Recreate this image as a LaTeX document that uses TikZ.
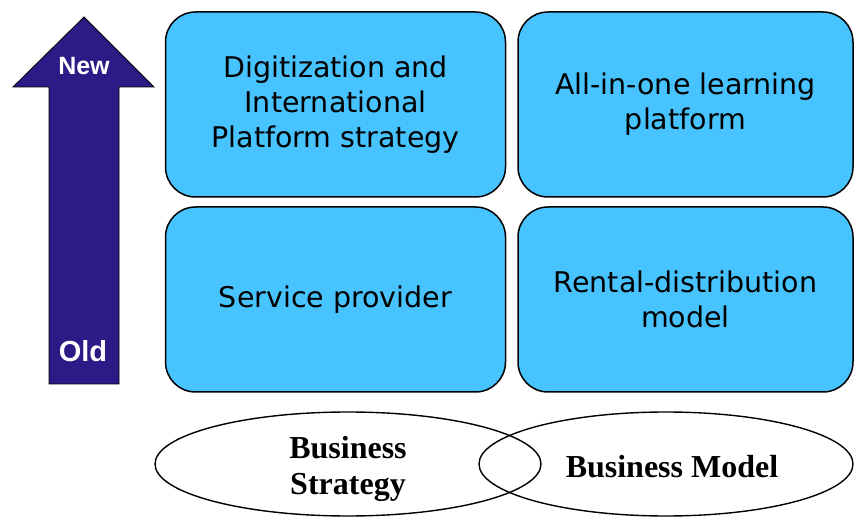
\documentclass[tikz,border=0pt]{standalone}
\usepackage{fontspec}
\setmainfont{DejaVu Sans}
\newfontfamily\arrowfont{Liberation Sans}
\newfontfamily\venfont{Liberation Serif}
\usetikzlibrary{shapes.geometric}
\definecolor{boxblue}{RGB}{71,196,255}
\definecolor{arrowpurple}{RGB}{46,26,135}
\begin{document}
\begin{tikzpicture}[x=1pt,y=-1pt,
    stage/.style={draw=black, line width=1.5pt, fill=boxblue, rounded corners=30pt, minimum width=340pt, minimum height=185pt, align=center, font=\fontsize{28.5}{35}\selectfont, inner sep=0pt},
    arrowtext/.style={text=white, font=\arrowfont\bfseries},
    venn/.style={draw=black, line width=1.4pt, ellipse, inner sep=0pt},
    venntext/.style={align=center, font=\venfont\bfseries\fontsize{32}{36}\selectfont}]
    \useasboundingbox (0,0) rectangle (854,518);

    % time arrow
    \draw[fill=arrowpurple, line width=0.8pt] (84,17) -- (154,87) -- (119,87) -- (119,384) -- (49,384) -- (49,87) -- (13,87) -- cycle;
    \node (new) at (84,66) [arrowtext, font=\arrowfont\bfseries\fontsize{25}{28}\selectfont] {New};
    \node (old) at (83,351) [arrowtext, font=\arrowfont\bfseries\fontsize{29}{32}\selectfont] {Old};

    % four boxes
    \node (digit) at (335.5,104.5) [stage] {Digitization and\\International\\Platform strategy};
    \node (allin) at (685.5,104.5) [stage, minimum width=335pt] {All-in-one learning\\platform};
    \node (service) at (335.5,299.5) [stage] {Service provider};
    \node (rental) at (685.5,299.5) [stage, minimum width=335pt] {Rental-distribution\\model};

    % strategy and model
    \node (strategy) at (348,464) [venn, minimum width=386pt, minimum height=104pt] {};
    \node (model) at (666,464) [venn, minimum width=374pt, minimum height=104pt] {};
    \node (strategytext) at (348,469) [venntext] {Business\\Strategy};
    \node (modeltext) at (672,467) [venntext] {Business Model};
\end{tikzpicture}
\end{document}
